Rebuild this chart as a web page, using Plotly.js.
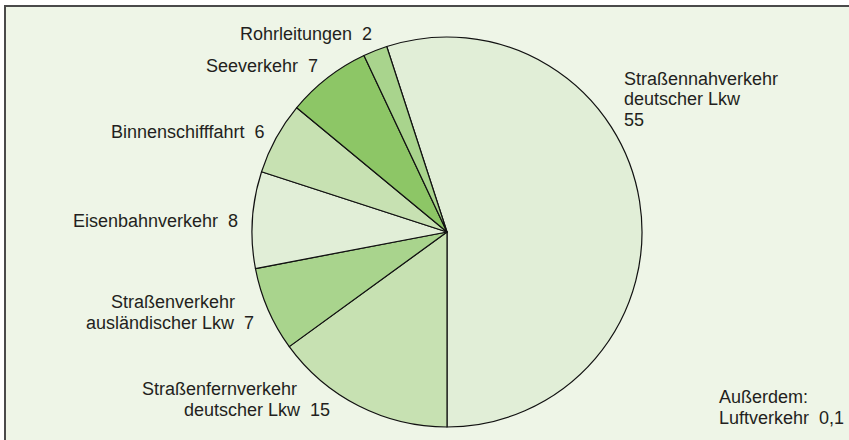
<!DOCTYPE html>
<html>
<head>
<meta charset="utf-8">
<script src="https://cdn.plot.ly/plotly-3.0.1.min.js"></script>
<style>html,body{margin:0;padding:0;background:#fff;}#chart{width:849px;height:440px;}</style>
</head>
<body>
<div id="chart"></div>
<script>
// Data (percent shares, clockwise from the Straßennahverkehr slice)
const categories = [
  "Straßennahverkehr deutscher Lkw",
  "Straßenfernverkehr deutscher Lkw",
  "Straßenverkehr ausländischer Lkw",
  "Eisenbahnverkehr",
  "Binnenschifffahrt",
  "Seeverkehr",
  "Rohrleitungen"
];
const values = [55, 15, 7, 8, 6, 7, 2];
const sliceColors = ["#e1eed7", "#c7e1b2", "#a9d48d", "#e1eed7", "#c7e1b2", "#8dc666", "#a9d48d"];
const extraLabel = ["Außerdem:", "Luftverkehr\u00a0\u00a00,1"];

const W = 849, H = 440;
const px = x => x / W;
const py = y => 1 - y / H;
const F = {family: "Liberation Sans, Arial, sans-serif", size: 18, color: "#231f20"};
const sp = "\u00a0\u00a0";

function ann(text, x, y, xanchor) {
  return {text: text, x: px(x), y: py(y), xref: "paper", yref: "paper",
          xanchor: xanchor, yanchor: "middle", showarrow: false, font: F,
          align: xanchor, borderpad: 0};
}

const annotations = [
  ann("Rohrleitungen" + sp + values[6], 373, 34, "right"),
  ann("Seeverkehr" + sp + values[5], 319, 66, "right"),
  ann("Binnenschifffahrt" + sp + values[4], 265, 132, "right"),
  ann("Eisenbahnverkehr" + sp + values[3], 239, 221, "right"),
  ann("Straßenverkehr", 236, 302, "right"),
  ann("ausländischer Lkw" + sp + values[2], 255, 323, "right"),
  ann("Straßenfernverkehr", 298, 389, "right"),
  ann("deutscher Lkw" + sp + values[1], 331, 410, "right"),
  ann("Straßennahverkehr", 623, 78.5, "left"),
  ann("deutscher Lkw", 623, 99, "left"),
  ann(String(values[0]), 623, 119.5, "left"),
  ann(extraLabel[0], 718, 397, "left"),
  ann(extraLabel[1], 718, 418, "left")
];

const trace = {
  type: "pie",
  labels: categories,
  values: values,
  sort: false,
  direction: "clockwise",
  rotation: -18,
  textinfo: "none",
  hoverinfo: "label+value",
  marker: {colors: sliceColors, line: {color: "#111", width: 1.2}},
  domain: {x: [px(252), px(642)], y: [py(427), py(37)]},
  showlegend: false
};

const layout = {
  width: W, height: H,
  margin: {l: 0, r: 0, t: 0, b: 0},
  paper_bgcolor: "#eef5e7",
  showlegend: false,
  annotations: annotations,
  shapes: [
    {type: "rect", xref: "paper", yref: "paper", x0: 0, x1: 1, y0: py(6), y1: 1, fillcolor: "#ffffff", line: {width: 0}, layer: "below"},
    {type: "rect", xref: "paper", yref: "paper", x0: 0, x1: px(4), y0: 0, y1: 1, fillcolor: "#ffffff", line: {width: 0}, layer: "below"},
    {type: "line", xref: "paper", yref: "paper", x0: px(4), x1: 1, y0: py(6), y1: py(6), line: {color: "#4a4a4a", width: 2}},
    {type: "line", xref: "paper", yref: "paper", x0: px(5), x1: px(5), y0: 0, y1: py(6), line: {color: "#4a4a4a", width: 2}}
  ]
};

Plotly.newPlot("chart", [trace], layout, {displayModeBar: false, staticPlot: true});
</script>
</body>
</html>
